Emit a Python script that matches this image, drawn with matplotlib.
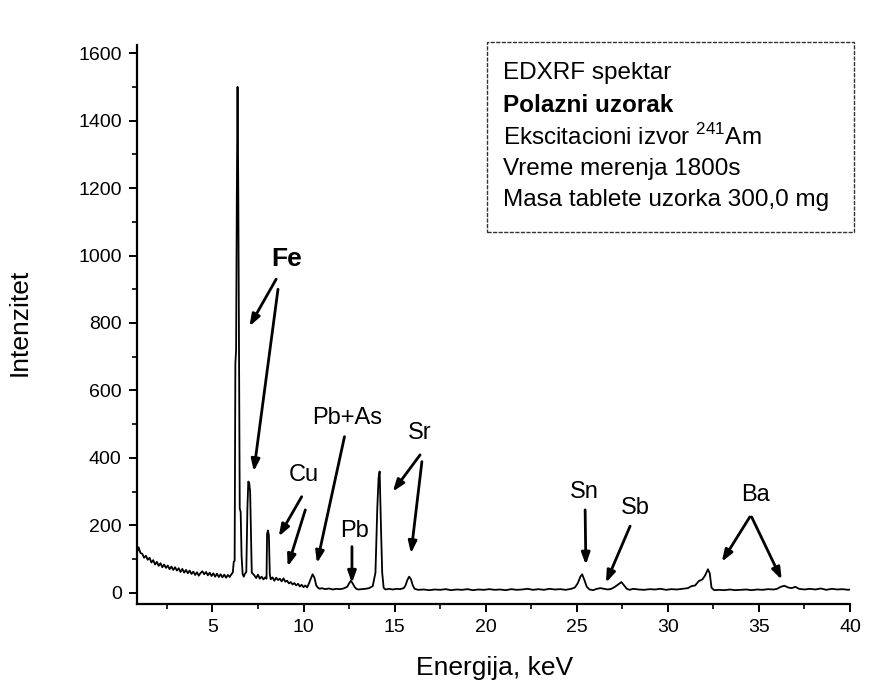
import matplotlib
matplotlib.use("Agg")
import matplotlib.pyplot as plt
from matplotlib.ticker import MultipleLocator
from matplotlib.patches import Rectangle

plt.rcParams['font.family'] = ['Liberation Sans', 'DejaVu Sans']
plt.rcParams['mathtext.fontset'] = 'custom'
plt.rcParams['mathtext.rm'] = 'Liberation Sans'

# ---------------- data ----------------
energy_kev = [
    0.86, 0.95, 1.05, 1.15, 1.25, 1.35, 1.45, 1.55, 1.65, 1.75,
    1.85, 1.95, 2.05, 2.15, 2.25, 2.35, 2.45, 2.55, 2.65, 2.75,
    2.85, 2.95, 3.05, 3.15, 3.25, 3.35, 3.45, 3.55, 3.65, 3.75,
    3.85, 3.95, 4.05, 4.15, 4.25, 4.35, 4.45, 4.55, 4.65, 4.75,
    4.85, 4.95, 5.05, 5.15, 5.25, 5.35, 5.45, 5.55, 5.65, 5.75,
    5.85, 5.95, 6.05, 6.12, 6.17, 6.22, 6.26, 6.30, 6.34, 6.38,
    6.42, 6.46, 6.50, 6.55, 6.60, 6.66, 6.72, 6.78, 6.86, 6.92,
    6.97, 7.02, 7.07, 7.11, 7.16, 7.30, 7.40, 7.50, 7.60, 7.70,
    7.80, 7.90, 7.97, 8.00, 8.05, 8.10, 8.15, 8.20, 8.30, 8.40,
    8.50, 8.60, 8.70, 8.80, 8.90, 9.00, 9.10, 9.20, 9.30, 9.40,
    9.50, 9.60, 9.70, 9.80, 9.90, 10.00, 10.10, 10.20, 10.30, 10.40,
    10.50, 10.60, 10.70, 10.80, 10.90, 11.00, 11.20, 11.40, 11.60, 11.80,
    12.00, 12.20, 12.40, 12.50, 12.60, 12.70, 12.80, 12.90, 13.00, 13.20,
    13.40, 13.60, 13.80, 13.95, 14.05, 14.12, 14.18, 14.25, 14.32, 14.40,
    14.50, 14.70, 14.90, 15.10, 15.30, 15.50, 15.60, 15.70, 15.80, 15.90,
    16.00, 16.10, 16.30, 16.60, 16.90, 17.20, 17.50, 17.80, 18.10, 18.40,
    18.70, 19.00, 19.30, 19.60, 19.90, 20.20, 20.50, 20.80, 21.10, 21.40,
    21.70, 22.00, 22.30, 22.60, 22.90, 23.20, 23.50, 23.80, 24.10, 24.40,
    24.70, 24.90, 25.05, 25.20, 25.30, 25.42, 25.55, 25.70, 25.90, 26.10,
    26.30, 26.50, 26.70, 26.90, 27.10, 27.30, 27.45, 27.60, 27.75, 27.90,
    28.10, 28.40, 28.70, 29.00, 29.30, 29.60, 29.90, 30.20, 30.50, 30.80,
    31.10, 31.30, 31.50, 31.70, 31.90, 32.05, 32.20, 32.30, 32.40, 32.55,
    32.80, 33.10, 33.40, 33.70, 34.00, 34.30, 34.60, 34.90, 35.20, 35.50,
    35.80, 36.00, 36.20, 36.40, 36.60, 36.80, 37.00, 37.20, 37.50, 37.80,
    38.10, 38.40, 38.70, 39.00, 39.30, 39.60, 39.90, 40.00,
]
intensity = [
    120, 135, 118, 116, 104, 110, 98, 104, 90, 97,
    84, 92, 80, 88, 76, 84, 74, 81, 70, 78,
    68, 76, 66, 73, 62, 71, 60, 68, 58, 66,
    56, 63, 53, 61, 51, 59, 64, 55, 62, 52,
    60, 50, 58, 48, 57, 47, 55, 46, 54, 45,
    53, 47, 56, 60, 92, 95, 680, 720, 1180, 1500,
    1190, 720, 250, 240, 110, 55, 48, 56, 62, 250,
    330, 325, 300, 200, 60, 52, 44, 54, 42, 48,
    40, 46, 42, 175, 185, 170, 55, 40, 46, 36,
    45, 38, 42, 34, 43, 33, 36, 28, 32, 25,
    29, 22, 27, 19, 24, 17, 22, 16, 28, 42,
    55, 45, 22, 15, 12, 14, 11, 13, 10, 12,
    11, 13, 18, 28, 36, 28, 18, 12, 10, 11,
    12, 14, 20, 60, 250, 340, 360, 200, 60, 15,
    10, 12, 10, 12, 11, 14, 22, 38, 48, 40,
    22, 12, 9, 10, 8, 10, 9, 11, 8, 10,
    9, 11, 8, 10, 9, 11, 9, 10, 8, 11,
    9, 10, 12, 9, 11, 9, 12, 10, 11, 9,
    12, 16, 28, 48, 55, 38, 18, 10, 8, 12,
    14, 12, 10, 12, 18, 26, 32, 22, 12, 9,
    12, 10, 9, 11, 10, 12, 9, 11, 10, 12,
    14, 20, 22, 35, 40, 52, 70, 58, 15, 8,
    9, 8, 10, 8, 9, 10, 8, 10, 9, 11,
    10, 12, 18, 21, 16, 14, 18, 12, 10, 12,
    10, 13, 9, 12, 10, 11, 9, 10,
]

x_ticks = [5, 10, 15, 20, 25, 30, 35, 40]
y_ticks = [0, 200, 400, 600, 800, 1000, 1200, 1400, 1600]

# element labels: text, label position (keV, counts), bold
peak_labels = ["Fe", "Cu", "Pb+As", "Pb", "Sr", "Sn", "Sb", "Ba"]
label_energy = [9.1, 10.0, 12.4, 12.8, 16.4, 25.4, 28.2, 34.8]
label_counts = [990, 350, 517, 182, 473, 300, 252, 290]
label_bold = [True, False, False, False, False, False, False, False]

# arrows: tail (keV, counts) -> tip (keV, counts)
arrow_tail_e = [8.5, 8.6, 9.9, 10.1, 12.25, 12.66, 16.4, 16.5, 25.46, 27.93, 34.5, 34.6]
arrow_tail_c = [930, 900, 285, 246, 463, 137, 409, 389, 246, 198, 225, 225]
arrow_tip_e = [7.03, 7.27, 8.64, 9.13, 10.74, 12.66, 14.9, 15.9, 25.5, 26.6, 32.96, 36.25]
arrow_tip_c = [790, 360, 167, 78, 88, 29, 300, 117, 83, 30, 92, 39]

legend_lines = [
    "EDXRF spektar",
    "Polazni uzorak",
    "Ekscitacioni izvor $^{\\mathrm{241}}$Am",
    "Vreme merenja 1800s",
    "Masa tablete uzorka 300,0 mg",
]
legend_bold = [False, True, False, False, False]

# ---------------- figure ----------------
W, H = 870, 696
fig = plt.figure(figsize=(W / 100, H / 100), dpi=100)
ax = fig.add_axes([137 / W, 1 - 604 / H, (850 - 137) / W, (604 - 45) / H])

ax.plot(energy_kev, intensity, color='black', lw=1.3)

ax.set_xlim(0.86, 40)
ax.set_ylim(-33, 1624)
ax.set_xticks(x_ticks)
ax.set_yticks(y_ticks)
ax.xaxis.set_minor_locator(MultipleLocator(2.5))
ax.yaxis.set_minor_locator(MultipleLocator(100))
ax.tick_params(which='major', direction='out', length=6, width=1.4, labelsize=14, pad=5)
ax.tick_params(which='minor', direction='out', length=3.5, width=1.2)
for s in ['top', 'right']:
    ax.spines[s].set_visible(False)
for s in ['left', 'bottom']:
    ax.spines[s].set_linewidth(1.6)

fig.text(495 / W, 1 - 668 / H, "Energija, keV", ha='center', va='center', fontsize=19)
fig.text(20 / W, 1 - 322 / H, "Intenzitet", ha='center', va='center', rotation=90, fontsize=19)

# element labels
for t, e, c, b in zip(peak_labels, label_energy, label_counts, label_bold):
    ax.text(e, c, t, ha='center', va='center', fontsize=19 if b else 17,
            fontweight='bold' if b else 'normal')

for te, tc, he, hc in zip(arrow_tail_e, arrow_tail_c, arrow_tip_e, arrow_tip_c):
    ax.annotate('', xy=(he, hc), xytext=(te, tc),
                arrowprops=dict(arrowstyle='-|>,head_length=0.7,head_width=0.25',
                                lw=2.0, color='black', shrinkA=0, shrinkB=0))

# legend box
fig.patches.append(Rectangle((487 / W, 1 - 232 / H), (854 - 487) / W, (232 - 42) / H,
                             transform=fig.transFigure, fill=False, lw=1.0,
                             edgecolor='#333333', linestyle=(0, (3, 1))))
line_y = [73, 105, 137, 169, 200]
for txt, y, b in zip(legend_lines, line_y, legend_bold):
    fig.text(503 / W, 1 - y / H, txt, ha='left', va='center', fontsize=17.5,
             fontweight='bold' if b else 'normal')

fig.savefig("out.png", dpi=100)
